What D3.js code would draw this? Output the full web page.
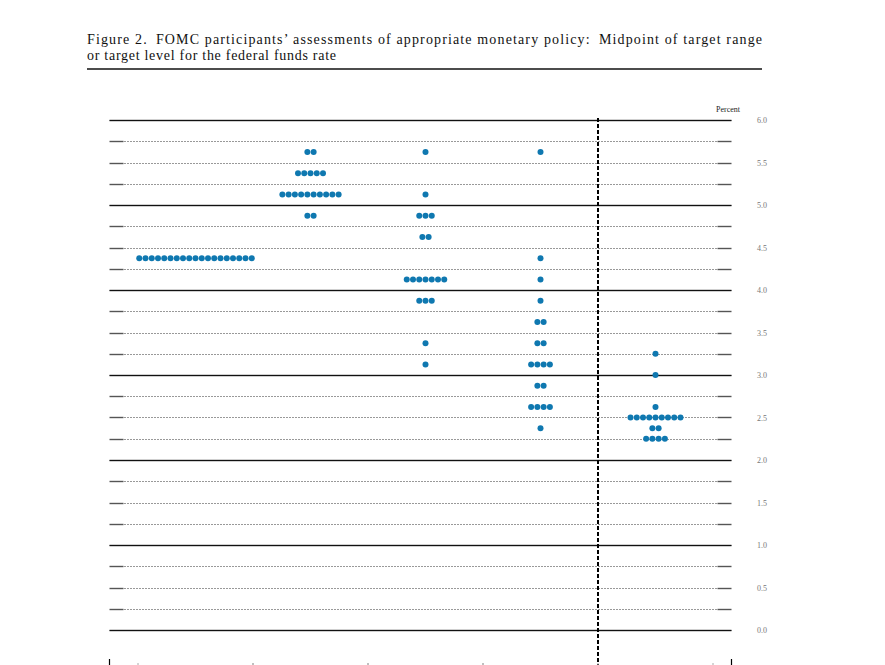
<!DOCTYPE html>
<html>
<head>
    <meta http-equiv="content-type" content="text/html; charset=utf-8" />
    <style>
        body { margin: 0; background: #fff; }
        svg { display: block; }
        .title { font-family: "Liberation Serif", "Times New Roman", serif; fill: #111; font-size: 14px; }
        .ylab text { font-family: "Liberation Serif", serif; font-size: 8px; fill: #777; }
    </style>
</head>
<body>
    <svg width="885" height="665"></svg>

    <script src="https://d3js.org/d3.v7.min.js"></script>
    <script>
        // data: [midpoint, number of participants]
        const years = ['2022', '2023', '2024', '2025', 'Longer run']
        const dots2022 = [[4.375, 19]]
        const dots2023 = [[5.625, 2], [5.375, 5], [5.125, 10], [4.875, 2]]
        const dots2024 = [[5.625, 1], [5.125, 1], [4.875, 3], [4.625, 2], [4.125, 7], [3.875, 3], [3.375, 1], [3.125, 1]]
        const dots2025 = [[5.625, 1], [4.375, 1], [4.125, 1], [3.875, 1], [3.625, 2], [3.375, 2], [3.125, 4], [2.875, 2], [2.625, 4], [2.375, 1]]
        const dotsLonger = [[3.25, 1], [3.0, 1], [2.625, 1], [2.5, 9], [2.375, 2], [2.25, 4]]
        const yTickLabels = ['0.0', '0.5', '1.0', '1.5', '2.0', '2.5', '3.0', '3.5', '4.0', '4.5', '5.0', '5.5', '6.0']

        const columns = [dots2022, dots2023, dots2024, dots2025, dotsLonger]

        const svg = d3.select('svg')

        // title lines, each spaced out to its width in the figure
        const titleLines = [
            ['Figure 2.\u2002FOMC participants\u2019 assessments of appropriate monetary policy:\u2002Midpoint of target range', 44, 675],
            ['or target level for the federal funds rate', 60, 249]
        ]
        titleLines.forEach(([txt, yy, w]) => {
            const t = svg.append('text').attr('class', 'title').attr('x', 87).attr('y', yy).text(txt)
            const ls = (w - t.node().getComputedTextLength()) / (txt.length - 1)
            t.style('letter-spacing', ls + 'px')
        })
        svg.append('line')
            .attr('x1', 87).attr('x2', 762).attr('y1', 69).attr('y2', 69)
            .attr('stroke', '#111').attr('stroke-width', 1.6)

        const outer = [109.5, 731.5]
        const x = d3.scaleBand().domain(years).range([138, 713])
        const y = d3.scaleLinear().domain([0, 6]).range([630, 120])

        // grid lines every 0.25
        const levels = d3.range(0, 24.5).map(i => i / 4)
        const grid = svg.append('g')
        levels.forEach(v => {
            const yy = Math.round(y(v)) + 0.5
            if (v % 1 === 0) {
                grid.append('line')
                    .attr('x1', outer[0]).attr('x2', outer[1]).attr('y1', yy).attr('y2', yy)
                    .attr('stroke', '#a0a0a0').attr('stroke-width', 2)
                grid.append('line')
                    .attr('x1', outer[0]).attr('x2', outer[1]).attr('y1', yy).attr('y2', yy)
                    .attr('stroke', '#111').attr('stroke-width', 1)
            } else {
                grid.append('line')
                    .attr('x1', outer[0] + 15).attr('x2', outer[1] - 15).attr('y1', yy).attr('y2', yy)
                    .attr('stroke', '#333').attr('stroke-width', 1).attr('stroke-dasharray', '1,2')
                grid.append('line')
                    .attr('x1', outer[0]).attr('x2', outer[0] + 14).attr('y1', yy).attr('y2', yy)
                    .attr('stroke', '#555').attr('stroke-width', 1.4)
                grid.append('line')
                    .attr('x1', outer[1] - 14).attr('x2', outer[1]).attr('y1', yy).attr('y2', yy)
                    .attr('stroke', '#555').attr('stroke-width', 1.4)
            }
        })

        // y labels
        const yAxis = d3.axisRight(y)
            .tickValues(yTickLabels.map(Number))
            .tickFormat((d, i) => yTickLabels[i])
            .tickSize(0)
        svg.append('g')
            .attr('class', 'ylab')
            .attr('transform', 'translate(754,0)')
            .call(yAxis)
            .call(g => g.select('.domain').remove())
        svg.append('text')
            .attr('x', 728).attr('y', 112)
            .attr('text-anchor', 'middle')
            .style('font-family', '"Liberation Serif", serif')
            .style('font-size', '8px')
            .style('fill', '#222')
            .text('Percent')

        // dashed separator before longer run
        svg.append('line')
            .attr('x1', x('Longer run')).attr('x2', x('Longer run'))
            .attr('y1', y(6) - 2).attr('y2', 670)
            .attr('stroke', '#000').attr('stroke-width', 2).attr('stroke-dasharray', '4,2')

        // bottom ticks
        outer.forEach(xx => {
            svg.append('line')
                .attr('x1', xx).attr('x2', xx).attr('y1', 659).attr('y2', 670)
                .attr('stroke', '#000').attr('stroke-width', 1.2)
        })
        years.forEach(yr => {
            [x(yr), x(yr) + x.bandwidth()].forEach(xx => {
                if (yr === 'Longer run' && xx === x(yr)) return
                svg.append('line')
                    .attr('x1', xx).attr('x2', xx).attr('y1', 663).attr('y2', 670)
                    .attr('stroke', '#aaa').attr('stroke-width', 1)
            })
        })

        // dots
        const step = 6.25
        const dots = []
        columns.forEach((col, ci) => {
            const cx = x(years[ci]) + x.bandwidth() / 2
            col.forEach(([rate, n]) => {
                for (let k = 0; k < n; k++) {
                    dots.push({ x: cx + (k - (n - 1) / 2) * step, rate: rate })
                }
            })
        })
        svg.append('g')
            .selectAll('circle')
            .data(dots)
            .join('circle')
            .attr('cx', d => d.x)
            .attr('cy', d => y(d.rate))
            .attr('r', 3)
            .attr('fill', '#0f78b0')
    </script>
</body>
</html>
